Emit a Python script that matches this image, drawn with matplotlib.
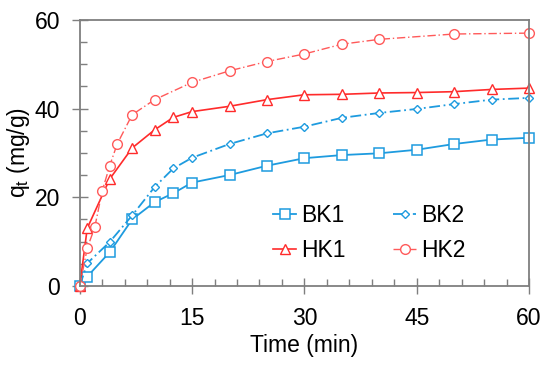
import matplotlib.pyplot as plt
from matplotlib.ticker import MultipleLocator

plt.rcParams['font.family'] = ['Liberation Sans', 'DejaVu Sans']

# sampling times (min)
t = [0, 1, 4, 7, 10, 12.5, 15, 20, 25, 30, 35, 40, 45, 50, 55, 60]
t_hk2 = [0, 1, 2, 3, 4, 5, 7, 10, 15, 20, 25, 30, 35, 40, 50, 60]

# adsorbed amount q_t (mg/g)
bk1 = [0, 2.1, 7.6, 15.0, 18.9, 20.9, 23.3, 25.0, 27.1, 28.8, 29.5, 29.9, 30.7, 32.0, 33.0, 33.4]
bk2 = [0, 5.1, 9.9, 15.9, 22.3, 26.5, 28.9, 32.0, 34.4, 35.9, 37.9, 39.0, 39.9, 41.0, 42.0, 42.4]
hk1 = [0, 13.0, 24.1, 31.1, 35.2, 38.0, 39.3, 40.5, 42.0, 43.1, 43.2, 43.5, 43.6, 43.8, 44.3, 44.6]
hk2 = [0, 8.5, 13.2, 21.4, 27.1, 32.0, 38.6, 42.0, 45.9, 48.5, 50.6, 52.3, 54.5, 55.6, 56.8, 57.0]

blue = '#1E9BDF'
red = '#FF2B2B'
red2 = '#FF5A5A'

fig = plt.figure(figsize=(5.5, 3.67), dpi=100)
ax = fig.add_axes([0.145, 0.221, 0.817, 0.725])

l1, = ax.plot(t, bk1, color=blue, lw=1.3, marker='s', ms=6.5, mfc='white', mew=1.1, label='BK1')
l2, = ax.plot(t, bk2, color=blue, lw=1.3, ls=(0, (6, 2, 1, 2)), marker='D', ms=4.5, mfc='white', mew=1.0, label='BK2')
l3, = ax.plot(t, hk1, color=red, lw=1.2, marker='^', ms=7, mfc='white', mew=1.0, label='HK1')
l4, = ax.plot(t_hk2, hk2, color=red2, lw=1.0, ls=(0, (6, 2, 1, 2)), marker='o', ms=7, mfc='white', mew=1.0, label='HK2')

ax.set_xlim(0, 60)
ax.set_ylim(0, 60)
ax.xaxis.set_major_locator(MultipleLocator(15))
ax.xaxis.set_minor_locator(MultipleLocator(3))
ax.yaxis.set_major_locator(MultipleLocator(20))
ax.yaxis.set_minor_locator(MultipleLocator(5))

for s in ax.spines.values():
    s.set_color('#7f7f7f')
    s.set_linewidth(1.3)
ax.tick_params(which='major', direction='inout', length=12, width=1.0, color='#7f7f7f',
               labelsize=16.5)
ax.tick_params(which='minor', direction='in', length=5, width=1.0, color='#7f7f7f')
ax.tick_params(axis='x', pad=9)
ax.tick_params(axis='y', pad=8)

ax.set_xlabel('Time (min)', fontsize=16.5, labelpad=3)
ax.set_ylabel('q$_\\mathregular{t}$ (mg/g)', fontsize=16.5, labelpad=2)

for line in ax.get_lines():
    line.set_clip_on(False)

# row-major order: BK1 BK2 / HK1 HK2
ax.legend([l1, l3, l2, l4], ['BK1', 'HK1', 'BK2', 'HK2'],
          loc='lower left', bbox_to_anchor=(0.405, 0.045), ncol=2, frameon=False,
          fontsize=16.5, handlelength=1.0, handletextpad=0.2, columnspacing=2.1,
          labelspacing=0.55, borderpad=0)

fig.savefig('out.png', dpi=100)
